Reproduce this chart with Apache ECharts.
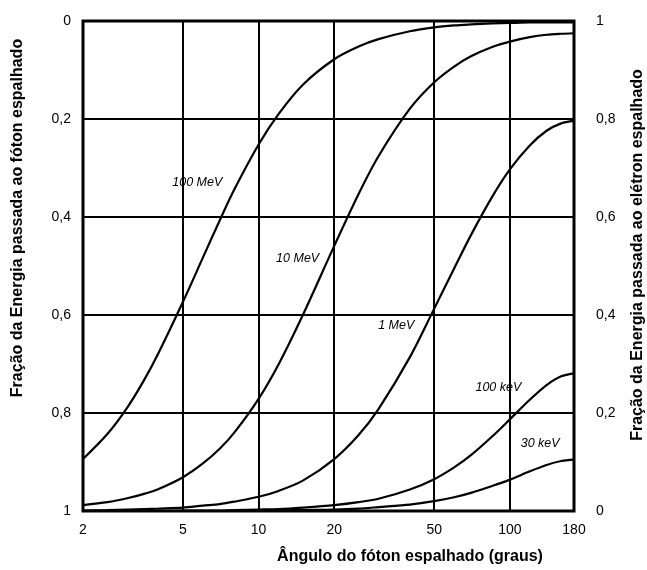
<!DOCTYPE html>
<html>
<head>
<meta charset="utf-8">
<script src="https://cdn.jsdelivr.net/npm/echarts@6/dist/echarts.min.js"></script>
<style>html,body{margin:0;padding:0;background:#fff;}#c{width:647px;height:570px;}</style>
</head>
<body>
<div id="c"></div>
<script>
// Scattering angle (degrees)
const angles = [2, 2.5, 3, 3.5, 4, 5, 6, 7, 8, 10, 12, 15, 20, 25, 30, 40, 50, 60, 70, 85, 100, 120, 140, 160, 180];
// Fraction of energy passed to scattered photon (left axis, 0 top -> 1 bottom)
const e100MeV = [0.894, 0.843, 0.789, 0.733, 0.677, 0.573, 0.483, 0.407, 0.344, 0.252, 0.190, 0.130, 0.078, 0.052, 0.037, 0.021, 0.013, 0.009, 0.007, 0.005, 0.004, 0.003, 0.003, 0.003, 0.003];
const e10MeV  = [0.988, 0.982, 0.974, 0.965, 0.955, 0.931, 0.903, 0.873, 0.840, 0.771, 0.701, 0.600, 0.459, 0.353, 0.276, 0.179, 0.125, 0.093, 0.072, 0.053, 0.042, 0.033, 0.028, 0.026, 0.025];
const e1MeV   = [0.999, 0.998, 0.997, 0.996, 0.995, 0.993, 0.989, 0.986, 0.981, 0.971, 0.959, 0.938, 0.894, 0.845, 0.792, 0.686, 0.587, 0.505, 0.437, 0.359, 0.303, 0.254, 0.224, 0.209, 0.204];
const e100keV = [1.000, 1.000, 1.000, 1.000, 1.000, 0.999, 0.999, 0.999, 0.998, 0.997, 0.996, 0.993, 0.988, 0.982, 0.975, 0.956, 0.935, 0.911, 0.886, 0.848, 0.813, 0.773, 0.743, 0.725, 0.719];
const e30keV  = [1.000, 1.000, 1.000, 1.000, 1.000, 1.000, 1.000, 1.000, 1.000, 0.999, 0.999, 0.998, 0.997, 0.995, 0.992, 0.987, 0.980, 0.972, 0.963, 0.949, 0.936, 0.919, 0.906, 0.898, 0.895];
const curveNames = ['100 MeV', '10 MeV', '1 MeV', '100 keV', '30 keV'];
const curveValues = [e100MeV, e10MeV, e1MeV, e100keV, e30keV];
// label anchor (angle, fraction) for each curve name
const labelAngles = [5.7, 14.3, 35.3, 90, 132];
const labelFractions = [0.329, 0.484, 0.622, 0.749, 0.863];
const xTicks = [2, 5, 10, 20, 50, 100, 180];

const fmt = v => String(Math.round(v * 10) / 10).replace('.', ',');
const font = 'Arial, "Liberation Sans", Helvetica, sans-serif';

const series = curveNames.map((name, i) => ({
  name: name,
  type: 'line',
  smooth: 0.3,
  showSymbol: false,
  symbol: 'none',
  lineStyle: { color: '#000', width: 2.2 },
  data: angles.map((a, j) => [a, curveValues[i][j]]),
  markPoint: {
    symbol: 'circle', symbolSize: 1,
    itemStyle: { color: 'rgba(0,0,0,0)' },
    label: { show: true, position: 'inside', formatter: name, color: '#000',
      fontStyle: 'italic', fontSize: 12.5, fontFamily: font },
    data: [{ coord: [labelAngles[i], labelFractions[i]] }]
  }
}));

const chart = echarts.init(document.getElementById('c'), null, { renderer: 'canvas' });
chart.setOption({
  animation: false,
  backgroundColor: '#fff',
  grid: { left: 83, right: 73, top: 21, bottom: 59, show: true, borderColor: '#000', borderWidth: 3, backgroundColor: 'transparent' },
  xAxis: {
    type: 'log', logBase: 10, min: 2, max: 180,
    axisLine: { show: false },
    axisTick: { show: false, customValues: xTicks },
    axisLabel: { customValues: xTicks, color: '#000', fontSize: 14, fontFamily: font, margin: 12, formatter: v => String(Math.round(v)) },
    splitLine: { show: true, lineStyle: { color: '#000', width: 2 } }
  },
  yAxis: [{
    type: 'value', inverse: true, min: 0, max: 1, interval: 0.2,
    axisLine: { show: false }, axisTick: { show: false },
    axisLabel: { color: '#000', fontSize: 14, fontFamily: font, margin: 12, formatter: fmt },
    splitLine: { show: true, lineStyle: { color: '#000', width: 2 } }
  }, {
    type: 'value', min: 0, max: 1, interval: 0.2, position: 'right',
    axisLine: { show: false }, axisTick: { show: false },
    axisLabel: { color: '#000', fontSize: 14, fontFamily: font, margin: 22, formatter: fmt },
    splitLine: { show: false }
  }],
  graphic: [
    { type: 'text', x: 18, y: 218, rotation: Math.PI / 2,
      style: { text: 'Fração da Energia passada ao fóton espalhado', textAlign: 'center', textVerticalAlign: 'middle', font: 'bold 16px ' + font, fill: '#000' } },
    { type: 'text', x: 638, y: 255, rotation: Math.PI / 2,
      style: { text: 'Fração da Energia passada ao elétron espalhado', textAlign: 'center', textVerticalAlign: 'middle', font: 'bold 16px ' + font, fill: '#000' } },
    { type: 'text', x: 410, y: 557,
      style: { text: 'Ângulo do fóton espalhado (graus)', textAlign: 'center', textVerticalAlign: 'middle', font: 'bold 16px ' + font, fill: '#000' } }
  ],
  series: series
});
</script>
</body>
</html>
